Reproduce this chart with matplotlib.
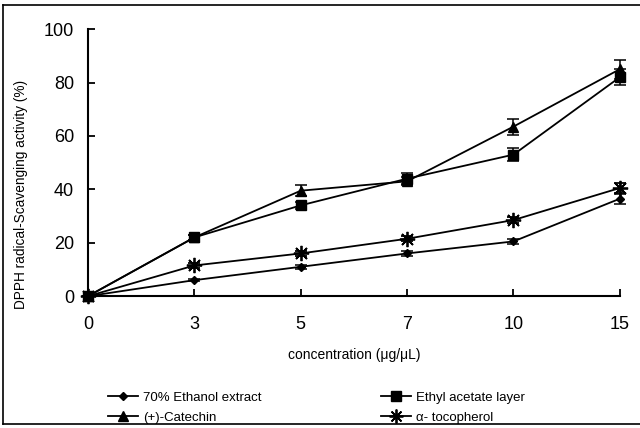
import numpy as np
import matplotlib
matplotlib.use("Agg")
import matplotlib.pyplot as plt
from matplotlib.lines import Line2D

conc_labels = ["0", "3", "5", "7", "10", "15"]

ethanol = [0, 6, 11, 16, 20.5, 36.5]
ethanol_err = [0, 0.5, 0.8, 0.8, 1.0, 1.8]
ethyl = [0, 22, 34, 44, 53, 82]
ethyl_err = [0, 0.8, 1.2, 2.0, 2.5, 3.0]
catechin = [0, 22, 39.5, 43, 63.5, 85]
catechin_err = [0, 0.8, 2.0, 1.5, 3.0, 3.5]
tocopherol = [0, 11.5, 16, 21.5, 28.5, 40.5]
tocopherol_err = [0, 0.8, 0.8, 1.0, 1.2, 2.0]

x = np.arange(len(conc_labels))

plt.rcParams['font.family'] = ['Liberation Sans', 'DejaVu Sans']

fig = plt.figure(figsize=(6.4, 4.28), dpi=100)
ax = fig.add_axes([0.1375, 0.308, 0.831, 0.624])

common = dict(color="black", lw=1.3, capsize=4, elinewidth=1.1, capthick=1.1, clip_on=False)
ax.errorbar(x, ethanol, yerr=ethanol_err, marker="D", ms=4.5, **common)
ax.errorbar(x, ethyl, yerr=ethyl_err, marker="s", ms=6.5, **common)
ax.errorbar(x, catechin, yerr=catechin_err, marker="^", ms=7, **common)
ax.errorbar(x, tocopherol, yerr=tocopherol_err, marker=(8, 2, 0), ms=11, mew=1.3, **common)

ax.set_xlim(0, 5)
ax.set_ylim(0, 100)
ax.set_xticks(x)
ax.set_xticklabels(conc_labels)
ax.set_yticks([0, 20, 40, 60, 80, 100])
ax.spines["top"].set_visible(False)
ax.spines["right"].set_visible(False)
ax.spines["left"].set_linewidth(1.5)
ax.spines["bottom"].set_linewidth(1.5)
ax.tick_params(direction="in", length=5, width=1.3, labelsize=13)
ax.tick_params(axis="y", pad=10)
ax.tick_params(axis="x", pad=14)

ax.set_xlabel("concentration (μg/μL)", fontsize=10, labelpad=11)
ax.set_ylabel("DPPH radical-Scavenging activity (%)", fontsize=9.8)
ax.yaxis.set_label_coords(-0.113, 0.38)

# legend shows plain line + marker, no error bars
handles = [
    Line2D([], [], color="black", lw=1.3, marker="D", ms=4.5),
    Line2D([], [], color="black", lw=1.3, marker="^", ms=7),
    Line2D([], [], color="black", lw=1.3, marker="s", ms=6.5),
    Line2D([], [], color="black", lw=1.3, marker=(8, 2, 0), ms=10, mew=1.3),
]
labels = ["70% Ethanol extract", "(+)-Catechin", "Ethyl acetate layer", "α- tocopherol"]
fig.legend(handles=handles, labels=labels,
           ncol=2, loc="lower left", bbox_to_anchor=(0.16, -0.003), frameon=False,
           fontsize=9.5, columnspacing=9, handlelength=2.3, handletextpad=0.4,
           labelspacing=0.6, borderaxespad=0)

# page frame from the scanned figure
fig.add_artist(Line2D([0.005, 0.005], [0.01, 0.988], color="black", lw=1.2))
fig.add_artist(Line2D([0.005, 1.0], [0.988, 0.988], color="black", lw=1.2))
fig.add_artist(Line2D([0.005, 1.0], [0.01, 0.01], color="black", lw=1.2))

fig.savefig("out.png", dpi=100)
